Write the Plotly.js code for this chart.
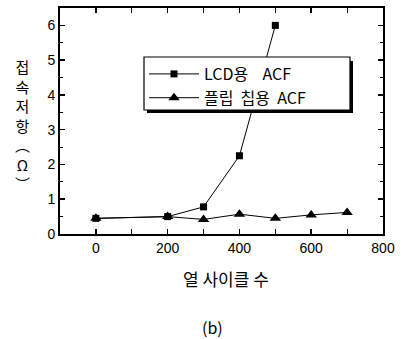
<!DOCTYPE html>
<html>
<head>
<meta charset="utf-8">
<script src="https://cdn.plot.ly/plotly-3.0.1.min.js"></script>
<style>html,body{margin:0;padding:0;background:#fff;}#plot{width:406px;height:339px;}</style>
</head>
<body>
<div id="plot"></div>
<script>
// Data
const cycles = [0, 200, 300, 400, 500, 600, 700];
const lcdCycles = [0, 200, 300, 400, 500];
const lcdValues = [0.45, 0.50, 0.78, 2.25, 6.0];
const flipValues = [0.45, 0.50, 0.42, 0.57, 0.45, 0.55, 0.62];
const NB = '\u00a0';
const seriesNames = ['LCD용' + NB.repeat(4) + 'ACF', '플립' + NB.repeat(2) + '칩용' + NB.repeat(2) + 'ACF'];
const xTickVals = [0, 200, 400, 600, 800];
const yTickVals = [0, 1, 2, 3, 4, 5, 6];
const yTitle = '접<br>속<br>저<br>항<br>︵<br>Ω<br>︶';
const xTitle = '열 사이클 수';
const caption = '(b)';

const fontFam = '"Liberation Sans Narrow", "Liberation Sans", Arial, sans-serif';
const krFont = '"Noto Sans CJK KR", "Noto Sans", sans-serif';

const traces = [
  {
    x: lcdCycles, y: lcdValues, name: seriesNames[0], type: 'scatter', mode: 'lines+markers',
    line: {color: '#000', width: 1},
    marker: {symbol: 'square', size: 7, color: '#000'}
  },
  {
    x: cycles, y: flipValues, name: seriesNames[1], type: 'scatter', mode: 'lines+markers',
    line: {color: '#000', width: 1},
    marker: {symbol: 'triangle-up', size: 10, color: '#000'}
  }
];

const L = 60, R = 23, T = 8, B = 105;
const pw = 406 - L - R, ph = 339 - T - B;
function px(xp){ return (xp - L) / pw; }
function py(yp){ return (339 - B - yp) / ph; }

const annotations = [
  {xref: 'paper', yref: 'paper', x: px(226), y: py(278), text: xTitle,
   showarrow: false, xanchor: 'center', yanchor: 'middle',
   font: {family: krFont, size: 17, color: '#000'}},
  {xref: 'paper', yref: 'paper', x: px(212), y: py(327), text: caption,
   showarrow: false, xanchor: 'center', yanchor: 'middle',
   font: {family: krFont, size: 16, color: '#000'}},
  {xref: 'paper', yref: 'paper', x: px(22), y: py(125), text: yTitle,
   showarrow: false, xanchor: 'center', yanchor: 'middle', align: 'center',
   font: {family: krFont, size: 15, color: '#000'}}
];

// legend frame (box + drop shadow) drawn as shapes so its size matches the reference
const shapes = [
  {type: 'rect', xref: 'paper', yref: 'paper', layer: 'above',
   x0: px(147), x1: px(353), y0: py(113), y1: py(61), fillcolor: '#000', line: {width: 0}},
  {type: 'rect', xref: 'paper', yref: 'paper', layer: 'above',
   x0: px(144), x1: px(350), y0: py(110), y1: py(57), fillcolor: '#fff', line: {color: '#000', width: 1.2}}
];

const layout = {
  width: 406, height: 339,
  margin: {l: L, r: R, t: T, b: B},
  paper_bgcolor: '#fff', plot_bgcolor: '#fff',
  showlegend: true,
  legend: {
    x: px(144), y: py(57), xanchor: 'left', yanchor: 'top',
    bgcolor: 'rgba(0,0,0,0)', borderwidth: 0,
    font: {family: krFont, size: 16, color: '#000'},
    itemwidth: 50, tracegroupgap: 0
  },
  xaxis: {
    range: [-100, 800], tickvals: xTickVals, ticktext: xTickVals.map(String),
    ticks: 'inside', ticklen: 5, tickwidth: 1.5, tickcolor: '#000',
    showline: true, linewidth: 2, linecolor: '#000', mirror: 'allticks',
    showgrid: false, zeroline: false,
    minor: {dtick: 100, tick0: 0, ticks: 'inside', ticklen: 5, tickwidth: 1, tickcolor: '#000', showgrid: false},
    tickfont: {family: fontFam, size: 14, color: '#000'}
  },
  yaxis: {
    range: [0, 6.5], tickvals: yTickVals, ticktext: yTickVals.map(String),
    ticks: 'inside', ticklen: 5, tickwidth: 1.5, tickcolor: '#000',
    showline: true, linewidth: 2, linecolor: '#000', mirror: 'allticks',
    showgrid: false, zeroline: false,
    minor: {dtick: 0.5, tick0: 0, ticks: 'inside', ticklen: 3, tickwidth: 1, tickcolor: '#000', showgrid: false},
    tickfont: {family: fontFam, size: 14, color: '#000'}
  },
  shapes: shapes,
  annotations: annotations
};

Plotly.newPlot('plot', traces, layout, {staticPlot: true, displayModeBar: false});
</script>
</body>
</html>
